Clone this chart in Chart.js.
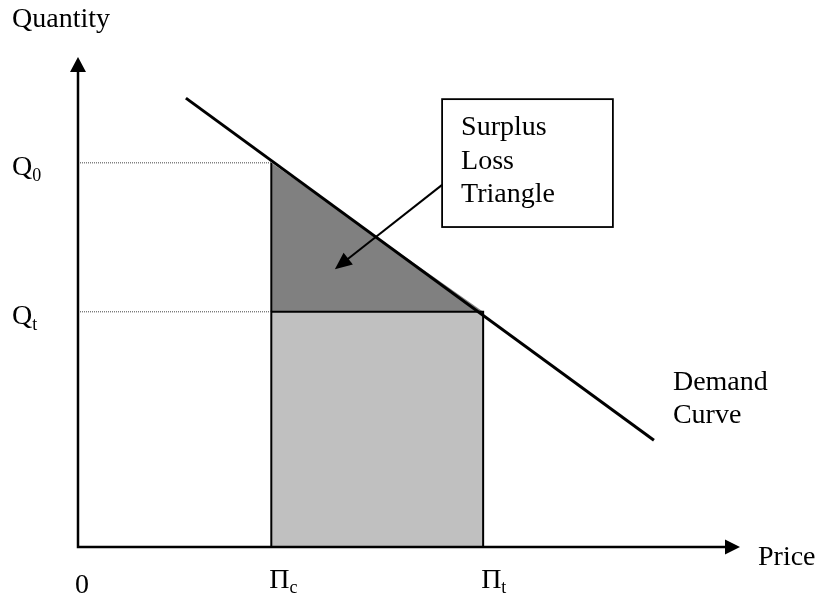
<!DOCTYPE html>
<html>
<head>
<meta charset="utf-8">
<script src="https://cdn.jsdelivr.net/npm/chart.js@4.4.1/dist/chart.umd.min.js"></script>
<style>
  html, body { margin: 0; padding: 0; background: #fff; overflow: hidden; }
  canvas { display: block; }
</style>
</head>
<body>
<canvas id="graphic" width="820" height="596"></canvas>
<script>
// values (axes run 0..10 in both directions)
const priceMarks = [2.92, 6.12];                    // Πc, Πt
const priceMarkLabels = [['Π', 'c'], ['Π', 't']];
const qtyMarks = [7.84, 4.80];                      // Q0, Qt
const qtyMarkLabels = [['Q', '0'], ['Q', 't']];
const demandPrice = [1.63, 8.70];
const demandQty = [9.16, 2.18];
const axisMax = 10;
const axisTitles = ['Price', 'Quantity'];
const demandLabel = ['Demand', 'Curve'];
const noteLines = ['Surplus', 'Loss', 'Triangle'];

const [pc, pt] = priceMarks;
const [q0, qt] = qtyMarks;
const demand = demandPrice.map((x, i) => ({ x, y: demandQty[i] }));

const font = '28px "Liberation Serif", "Times New Roman", serif';
const subFont = '18px "Liberation Serif", "Times New Roman", serif';

// where the note box and its arrow sit, in axis units
const note = { x1: 5.50, y1: 9.14, x2: 8.08, y2: 6.53, fromY: 7.39, toX: 3.88, toY: 5.67 };

function arrowHead(ctx, x, y, angle, len, half) {
    ctx.save();
    ctx.translate(x, y);
    ctx.rotate(angle);
    ctx.beginPath();
    ctx.moveTo(0, 0);
    ctx.lineTo(-len, -half);
    ctx.lineTo(-len, half);
    ctx.closePath();
    ctx.fill();
    ctx.restore();
}

function subText(ctx, parts, x, y, drop) {
    ctx.font = font;
    ctx.fillText(parts[0], x, y);
    const w = ctx.measureText(parts[0]).width;
    ctx.font = subFont;
    ctx.fillText(parts[1], x + w, y + drop);
}

const decorations = {
    id: 'decorations',
    afterDatasetsDraw(chart) {
        const { ctx, chartArea: area, scales: { x, y } } = chart;
        const x0 = x.getPixelForValue(0);
        const y0 = y.getPixelForValue(0);
        ctx.save();
        ctx.fillStyle = '#000';
        ctx.strokeStyle = '#000';

        // axes with arrows
        ctx.lineWidth = 2.5;
        ctx.beginPath();
        ctx.moveTo(x0, y0);
        ctx.lineTo(x0, area.top + 10);
        ctx.moveTo(x0 - 1.25, y0);
        ctx.lineTo(area.right - 10, y0);
        ctx.stroke();
        arrowHead(ctx, x0, area.top, -Math.PI / 2, 15, 8);
        arrowHead(ctx, area.right, y0, 0, 15, 7.5);

        // note box + arrow
        const bx1 = x.getPixelForValue(note.x1), by1 = y.getPixelForValue(note.y1);
        const bx2 = x.getPixelForValue(note.x2), by2 = y.getPixelForValue(note.y2);
        ctx.fillStyle = '#fff';
        ctx.fillRect(bx1, by1, bx2 - bx1, by2 - by1);
        ctx.fillStyle = '#000';
        ctx.lineWidth = 1.8;
        ctx.strokeRect(bx1, by1, bx2 - bx1, by2 - by1);
        const fx = bx1, fy = y.getPixelForValue(note.fromY);
        const tx = x.getPixelForValue(note.toX), ty = y.getPixelForValue(note.toY);
        const ang = Math.atan2(ty - fy, tx - fx);
        ctx.lineWidth = 2;
        ctx.beginPath();
        ctx.moveTo(fx, fy);
        ctx.lineTo(tx - Math.cos(ang) * 10, ty - Math.sin(ang) * 10);
        ctx.stroke();
        arrowHead(ctx, tx, ty, ang, 17, 7.5);

        ctx.font = font;
        ctx.textAlign = 'left';
        ctx.textBaseline = 'alphabetic';
        noteLines.forEach((t, i) => ctx.fillText(t, bx1 + 19, by1 + 36 + i * 33.5));

        // demand label near the end of the line
        const last = demand[demand.length - 1];
        const ex = x.getPixelForValue(last.x), ey = y.getPixelForValue(last.y);
        ctx.fillText(demandLabel[0], ex + 19, ey - 50);
        ctx.fillText(demandLabel[1], ex + 19, ey - 17);

        // axis titles
        ctx.fillText(axisTitles[1], 12, 27);
        ctx.fillText(axisTitles[0], area.right + 18, y0 + 18);

        // tick labels
        ctx.fillText('0', x0 - 3, y0 + 46);
        priceMarks.forEach((v, i) => subText(ctx, priceMarkLabels[i], x.getPixelForValue(v) - 2, y0 + 41, 5));
        qtyMarks.forEach((v, i) => subText(ctx, qtyMarkLabels[i], 12, y.getPixelForValue(v) + 12, 6));
        ctx.restore();
    }
};

const ctx = document.getElementById('graphic').getContext('2d');
new Chart(ctx, {
    type: 'scatter',
    data: {
        datasets: [
            {
                label: 'Demand',
                data: demand,
                showLine: true,
                borderColor: '#000',
                borderWidth: 3,
                borderCapStyle: 'butt',
                pointRadius: 0,
                order: 0
            },
            {
                label: 'Q0 guide',
                data: [{ x: 0, y: q0 }, { x: pc, y: q0 }],
                showLine: true,
                borderColor: '#444',
                borderWidth: 1,
                borderDash: [1, 1],
                pointRadius: 0,
                order: 1
            },
            {
                label: 'Qt guide',
                data: [{ x: 0, y: qt }, { x: pc, y: qt }],
                showLine: true,
                borderColor: '#444',
                borderWidth: 1,
                borderDash: [1, 1],
                pointRadius: 0,
                order: 1
            },
            {
                label: 'Revenue',
                data: [{ x: pc, y: 0 }, { x: pc, y: qt }, { x: pt, y: qt }, { x: pt, y: 0 }],
                showLine: true,
                fill: 'origin',
                backgroundColor: '#c0c0c0',
                borderColor: '#000',
                borderWidth: 2,
                pointRadius: 0,
                order: 2
            },
            {
                label: 'Surplus loss',
                data: [{ x: pc, y: qt }, { x: pc, y: q0 }, { x: pt, y: qt }],
                showLine: true,
                fill: { value: qt },
                backgroundColor: '#808080',
                borderColor: '#000',
                borderWidth: 2,
                segment: {
                    // the slanted edge is the demand line itself
                    borderColor: c => c.p0DataIndex === 1 ? 'rgba(0,0,0,0)' : '#000'
                },
                pointRadius: 0,
                order: 3
            }
        ]
    },
    options: {
        responsive: false,
        animation: false,
        devicePixelRatio: 1,
        layout: { padding: { left: 78, right: 80, top: 57, bottom: 49 } },
        scales: {
            x: { type: 'linear', min: 0, max: axisMax, display: false },
            y: { type: 'linear', min: 0, max: axisMax, display: false }
        },
        plugins: {
            legend: { display: false },
            tooltip: { enabled: false }
        }
    },
    plugins: [decorations]
});
</script>
</body>
</html>
